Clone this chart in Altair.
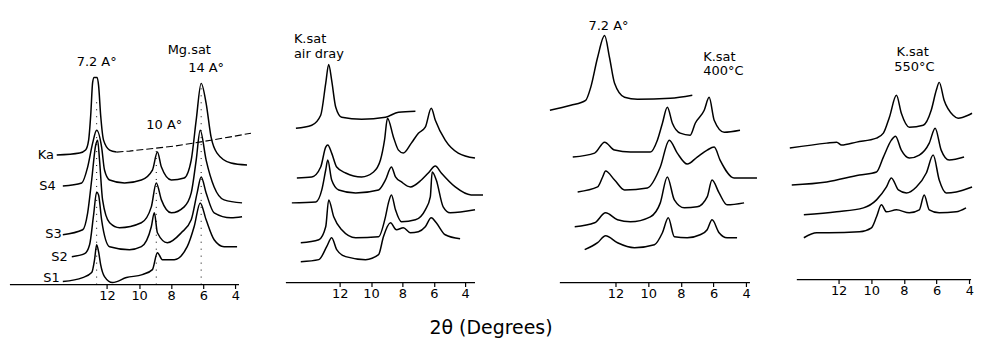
import altair as alt
import pandas as pd

FONT = "DejaVu Sans"

# ---------------- Panel 1 : Mg.sat (2theta in degrees, intensity in a.u.) ----------------
mg_ka_2theta = [15.14, 13.71, 13.34, 13.15, 13.02, 12.90, 12.81, 12.62, 12.53, 12.40, 12.22, 11.84, 11.41]
mg_ka_int = [130, 132, 135, 145, 170, 203, 208, 208, 200, 170, 145, 135, 133]

mg_ka_tail_2theta = [11.41, 10.60, 7.81, 6.25, 4.39, 3.02]
mg_ka_tail_int = [133, 134, 139, 143, 148, 152]

mg_s4_2theta = [14.76, 13.58, 13.21, 12.90, 12.65, 12.34, 12.16, 11.84, 10.91, 9.86, 9.17, 8.86, 8.61, 7.99, 7.19, 6.75, 6.44, 6.13, 5.82, 5.51, 5.14, 4.27, 3.27]
mg_s4_int = [99, 102, 118, 142, 155, 138, 115, 105, 102, 105, 115, 133, 118, 105, 107, 125, 165, 202, 182, 148, 132, 122, 120]

mg_s3_2theta = [14.76, 13.52, 13.21, 12.96, 12.71, 12.59, 12.47, 12.28, 11.84, 11.22, 9.86, 9.24, 8.93, 8.61, 7.99, 7.19, 6.75, 6.44, 6.19, 5.82, 5.32, 4.70, 3.58]
mg_s3_int = [50, 55, 72, 105, 140, 145, 125, 85, 62, 57, 62, 78, 102, 85, 72, 78, 92, 125, 155, 125, 98, 85, 82]

mg_s2_2theta = [14.20, 13.40, 13.09, 12.84, 12.65, 12.53, 12.34, 11.84, 10.60, 9.86, 9.24, 9.05, 8.86, 8.24, 7.37, 6.75, 6.38, 6.13, 5.82, 5.32, 4.27, 3.58]
mg_s2_int = [28, 31, 40, 70, 93, 90, 65, 38, 35, 38, 58, 72, 52, 42, 52, 65, 92, 108, 92, 72, 67, 68]

mg_s1_2theta = [14.76, 13.52, 12.96, 12.78, 12.65, 12.53, 12.40, 12.16, 11.66, 10.79, 9.80, 9.17, 8.86, 8.55, 7.81, 7.00, 6.57, 6.19, 5.82, 5.32, 4.70, 3.89]
mg_s1_int = [3, 7, 12, 25, 40, 33, 20, 8, 2, 7, 10, 15, 32, 25, 25, 38, 58, 82, 65, 45, 38, 38]

mg_sample_labels = ["Ka", "S4", "S3", "S2", "S1"]
mg_label_2theta = [15.32, 15.20, 14.83, 14.45, 14.95]
mg_label_int = [130, 99, 51, 28, 7]

mg_peak_labels = ["7.2 A°", "Mg.sat", "14 A°", "10 A°"]
mg_peak_2theta = [12.65, 6.87, 5.82, 8.43]
mg_peak_int = [223, 235, 217, 160]

mg_ref_2theta = [12.65, 8.93, 6.13]
mg_ref_top = [188, 135, 200]

# ---------------- Panel 2 : K.sat air dry ----------------
kad_c1_2theta = [14.79, 13.78, 13.21, 12.89, 12.70, 12.51, 12.25, 11.87, 10.60, 9.08, 8.25, 7.17]
kad_c1_int = [155, 158, 168, 200, 219, 203, 176, 166, 164, 166, 171, 172]

kad_c2_2theta = [14.73, 13.78, 13.21, 12.89, 12.76, 12.51, 12.19, 11.62, 10.60, 9.84, 9.40, 9.14, 8.95, 8.57, 8.25, 7.94, 7.43, 6.98, 6.54, 6.16, 5.90, 5.27, 4.44, 3.37]
kad_c2_int = [105, 106, 116, 136, 138, 130, 116, 110, 106, 111, 123, 143, 165, 146, 133, 130, 140, 150, 156, 175, 163, 143, 130, 125]

kad_c3_2theta = [15.05, 13.52, 13.14, 12.89, 12.76, 12.51, 12.06, 10.98, 9.52, 9.08, 8.70, 8.44, 8.06, 7.49, 6.79, 6.35, 5.90, 5.52, 4.63, 3.62, 2.86]
kad_c3_int = [80, 81, 93, 113, 123, 103, 93, 90, 93, 103, 116, 106, 101, 96, 103, 110, 117, 110, 96, 88, 88]

kad_c4_2theta = [14.48, 13.33, 12.89, 12.70, 12.38, 11.87, 10.98, 9.52, 9.08, 8.89, 8.70, 8.44, 8.06, 7.17, 6.54, 6.22, 6.10, 5.84, 5.40, 4.95, 3.37]
kad_c4_int = [40, 43, 56, 83, 66, 53, 45, 46, 66, 80, 88, 73, 61, 63, 73, 86, 111, 103, 76, 70, 73]

kad_c5_2theta = [14.48, 13.33, 12.83, 12.51, 12.19, 11.62, 10.35, 9.52, 9.21, 8.76, 8.38, 7.94, 7.49, 6.98, 6.54, 6.16, 5.84, 5.27, 4.32]
kad_c5_int = [21, 23, 36, 45, 33, 26, 23, 28, 46, 60, 53, 55, 50, 51, 56, 65, 60, 48, 44]

kad_labels = ["K.sat", "air dray"]
kad_label_2theta = [14.92, 14.92]
kad_label_int = [245, 229]

# ---------------- Panel 3 : K.sat 400 C ----------------
k400_c1_2theta = [16.02, 14.74, 13.83, 13.52, 13.10, 12.67, 12.37, 12.06, 11.45, 10.66, 8.65, 7.30]
k400_c1_int = [173, 178, 183, 196, 226, 248, 226, 200, 186, 184, 185, 188]

k400_c2_2theta = [14.62, 13.28, 12.67, 12.06, 11.09, 9.87, 9.44, 9.13, 8.83, 8.52, 8.04, 7.43, 7.12, 6.57, 6.27, 5.96, 5.35, 4.38]
k400_c2_int = [126, 130, 141, 133, 131, 131, 143, 160, 176, 160, 150, 148, 160, 173, 186, 163, 151, 153]

k400_c3_2theta = [14.32, 13.10, 12.79, 12.61, 12.06, 11.45, 10.05, 9.26, 8.71, 8.22, 7.61, 7.00, 6.39, 5.96, 5.60, 4.74, 3.34]
k400_c3_int = [91, 96, 106, 112, 103, 93, 95, 116, 143, 130, 119, 126, 133, 136, 123, 105, 105]

k400_c4_2theta = [14.50, 13.28, 12.61, 11.88, 11.09, 9.87, 9.26, 8.83, 8.40, 7.79, 7.00, 6.39, 6.09, 5.66, 5.17, 4.13]
k400_c4_int = [56, 60, 70, 63, 61, 66, 80, 106, 83, 75, 76, 86, 103, 90, 78, 80]

k400_c5_2theta = [13.89, 13.10, 12.61, 11.88, 10.84, 9.62, 9.13, 8.77, 8.40, 7.61, 6.82, 6.39, 6.09, 5.66, 5.17, 4.56]
k400_c5_int = [33, 40, 47, 40, 35, 38, 50, 65, 46, 45, 48, 53, 63, 50, 45, 45]

k400_center_labels = ["7.2 A°"]
k400_center_2theta = [12.43]
k400_center_int = [258]
k400_labels = ["K.sat", "400°C"]
k400_label_2theta = [6.63, 6.63]
k400_label_int = [226, 212]

# ---------------- Panel 4 : K.sat 550 C ----------------
k550_c1_2theta = [14.99, 12.73, 12.12, 11.82, 10.90, 9.68, 9.26, 8.89, 8.46, 8.16, 7.67, 6.82, 6.33, 6.02, 5.84, 5.54, 4.99, 4.68, 4.07, 3.83]
k550_c1_int = [132, 137, 138, 135, 138, 142, 147, 163, 185, 167, 153, 155, 170, 190, 198, 180, 165, 162, 165, 167]

k550_c2_2theta = [14.87, 12.73, 10.72, 9.68, 9.26, 8.77, 8.52, 8.16, 7.67, 7.06, 6.45, 6.09, 5.72, 5.23, 4.32]
k550_c2_int = [95, 98, 105, 108, 123, 140, 144, 130, 122, 125, 137, 152, 130, 120, 123]

k550_c3_2theta = [14.13, 12.12, 10.48, 9.68, 9.07, 8.77, 8.34, 7.85, 7.24, 6.63, 6.21, 5.84, 5.41, 4.80, 3.83]
k550_c3_int = [65, 68, 72, 80, 93, 102, 90, 87, 93, 107, 125, 100, 87, 88, 93]

k550_c4_2theta = [14.13, 13.34, 12.61, 10.72, 9.99, 9.68, 9.38, 9.07, 8.46, 7.67, 7.06, 6.76, 6.45, 5.84, 4.80, 4.20]
k550_c4_int = [42, 47, 47, 48, 52, 63, 75, 68, 70, 67, 70, 85, 70, 67, 68, 72]

k550_labels = ["K.sat", "550°C"]
k550_label_2theta = [8.46, 8.59]
k550_label_int = [228, 213]

tick_values = [12, 10, 8, 6, 4]


def curves_df(curves):
    rows = []
    for name, ts, vs in curves:
        for i, (t, v) in enumerate(zip(ts, vs)):
            rows.append({"curve": name, "i": i, "t": t, "v": v})
    return pd.DataFrame(rows)


def text_df(labels, ts, vs):
    return pd.DataFrame({"label": labels, "t": ts, "v": vs})


def panel(curves, width, height, dom, axis_span, texts=(), refs=None, dashed=None):
    x = alt.X(
        "t:Q",
        scale=alt.Scale(domain=dom, nice=False, zero=False),
        axis=alt.Axis(
            values=tick_values, domain=False, grid=False, tickSize=4,
            tickColor="black", tickWidth=1.2, labelColor="black",
            labelFont=FONT, labelFontSize=13, labelPadding=1, title=None,
            format="d", labelFlush=False,
        ),
    )
    y = alt.Y("v:Q", scale=alt.Scale(domain=[0, height], nice=False, zero=False), axis=None)
    axis_df = pd.DataFrame({"t": [axis_span[0]], "t2": [axis_span[1]], "v": [0]})
    layers = [
        alt.Chart(axis_df).mark_rule(color="black", strokeWidth=1.2).encode(x=x, x2="t2:Q", y=y),
        alt.Chart(curves_df(curves)).mark_line(
            color="black", strokeWidth=1.5, interpolate="monotone", strokeJoin="round"
        ).encode(x=x, y=y, detail="curve:N", order="i:Q"),
    ]
    if dashed is not None:
        layers.append(
            alt.Chart(curves_df(dashed)).mark_line(
                color="black", strokeWidth=1.1, strokeDash=[7, 3]
            ).encode(x=x, y=y, detail="curve:N", order="i:Q")
        )
    if refs is not None:
        ref_df = pd.DataFrame({"t": refs[0], "v": [0] * len(refs[0]), "v2": refs[1]})
        layers.append(
            alt.Chart(ref_df).mark_rule(color="black", strokeWidth=1, strokeDash=[1, 6]).encode(
                x=x, y=y, y2="v2:Q"
            )
        )
    for df, align in texts:
        layers.append(
            alt.Chart(df).mark_text(
                align=align, baseline="middle", font=FONT, fontSize=13, color="black"
            ).encode(x=x, y=y, text="label:N")
        )
    return alt.layer(*layers).properties(width=width, height=height)


p1 = panel(
    [("Ka", mg_ka_2theta, mg_ka_int), ("S4", mg_s4_2theta, mg_s4_int),
     ("S3", mg_s3_2theta, mg_s3_int), ("S2", mg_s2_2theta, mg_s2_int),
     ("S1", mg_s1_2theta, mg_s1_int)],
    254, 277, [18.18, 2.40], (18.06, 3.77),
    texts=[(text_df(mg_sample_labels, mg_label_2theta, mg_label_int), "right"),
           (text_df(mg_peak_labels, mg_peak_2theta, mg_peak_int), "center")],
    refs=(mg_ref_2theta, mg_ref_top),
    dashed=[("Ka tail", mg_ka_tail_2theta, mg_ka_tail_int)],
)

p2 = panel(
    [("c1", kad_c1_2theta, kad_c1_int), ("c2", kad_c2_2theta, kad_c2_int),
     ("c3", kad_c3_2theta, kad_c3_int), ("c4", kad_c4_2theta, kad_c4_int),
     ("c5", kad_c5_2theta, kad_c5_int)],
    258, 275, [17.02, 0.635], (15.43, 3.37),
    texts=[(text_df(kad_labels, kad_label_2theta, kad_label_int), "left")],
)

p3 = panel(
    [("c1", k400_c1_2theta, k400_c1_int), ("c2", k400_c2_2theta, k400_c2_int),
     ("c3", k400_c3_2theta, k400_c3_int), ("c4", k400_c4_2theta, k400_c4_int),
     ("c5", k400_c5_2theta, k400_c5_int)],
    255, 275, [17.98, 2.43], (15.41, 3.77),
    texts=[(text_df(k400_center_labels, k400_center_2theta, k400_center_int), "center"),
           (text_df(k400_labels, k400_label_2theta, k400_label_int), "left")],
)

p4 = panel(
    [("c1", k550_c1_2theta, k550_c1_int), ("c2", k550_c2_2theta, k550_c2_int),
     ("c3", k550_c3_2theta, k550_c3_int), ("c4", k550_c4_2theta, k550_c4_int)],
    203, 272, [16.09, 3.71], (14.56, 3.89),
    texts=[(text_df(k550_labels, k550_label_2theta, k550_label_int), "left")],
)

chart = alt.hconcat(
    p1, p2, p3, p4,
    spacing=0,
    bounds="flush",
    padding=0,
    background="white",
    title=alt.TitleParams(
        "2θ (Degrees)", orient="bottom", anchor="middle", fontSize=19, font=FONT,
        fontWeight="normal", color="black", offset=17,
    ),
).configure_view(stroke=None)

chart.save("out.html", embed_options={"renderer": "svg", "actions": False})
